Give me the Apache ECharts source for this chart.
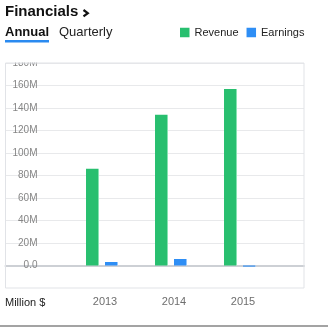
<!DOCTYPE html>
<html>
<head>
<meta charset="utf-8">
<script src="https://cdn.jsdelivr.net/npm/echarts@6/dist/echarts.min.js"></script>
<style>
  html, body { margin: 0; padding: 0; background: #fff; }
  #chart { width: 328px; height: 327px; }
</style>
</head>
<body>
<div id="chart"></div>
<script>
const categories = ['2013', '2014', '2015'];
const revenue = [86, 134, 157];
const earnings = [3.1, 5.8, -1.0];
const yMin = 0, yMax = 180, yStep = 20;
const seriesNames = ['Revenue', 'Earnings'];
const unitLabel = 'Million $';

const FONT = '"Liberation Sans", Arial, sans-serif';
const GREEN = '#28bf6f';
const GREEN_EDGE = '#86e2b2';
const BLUE = '#2e8ef5';
const BLUE_EDGE = '#92c5fb';

function edgeFill(main, edge) {
  return new echarts.graphic.LinearGradient(0, 0, 1, 0, [
    { offset: 0, color: main }, { offset: 0.92, color: main },
    { offset: 0.92, color: edge }, { offset: 1, color: edge }
  ]);
}

const chart = echarts.init(document.getElementById('chart'), null, { renderer: 'canvas' });
chart.setOption({
  animation: false,
  backgroundColor: '#fff',
  textStyle: { fontFamily: FONT },
  legend: {
    left: 180, top: 27, padding: 0,
    itemWidth: 9.5, itemHeight: 9.5, itemGap: 8,
    icon: 'rect',
    textStyle: { fontSize: 11, color: '#222', fontFamily: FONT },
    data: [
      { name: seriesNames[0], itemStyle: { color: GREEN } },
      { name: seriesNames[1], itemStyle: { color: BLUE } }
    ]
  },
  grid: [
    { left: 5.5, right: 24, top: 63, bottom: 61.5 },
    { left: 67.5, right: 53.5, top: 63, bottom: 61.5 }
  ],
  xAxis: [
    { gridIndex: 0, type: 'category', data: [''],
      axisLine: { show: true, lineStyle: { color: '#cdd0d5', width: 2 } },
      axisTick: { show: false }, axisLabel: { show: false }, splitLine: { show: false } },
    { gridIndex: 1, type: 'category', data: categories,
      axisLine: { show: false }, axisTick: { show: false },
      axisLabel: { margin: 31, fontSize: 11, color: '#6e6e6e', padding: [0, 0, 0, 6], fontFamily: FONT } }
  ],
  yAxis: [
    { gridIndex: 0, type: 'value', min: yMin, max: yMax, interval: yStep,
      axisLine: { show: false }, axisTick: { show: false },
      axisLabel: { inside: true, align: 'right', margin: 32, fontSize: 10, color: '#858585', fontFamily: FONT,
        formatter: v => v === 0 ? '0.0' : v + 'M' },
      splitLine: { lineStyle: { color: '#e8e9eb', width: 1 } } },
    { gridIndex: 1, type: 'value', min: yMin, max: yMax, interval: yStep, show: false }
  ],
  series: [
    { name: seriesNames[0], type: 'bar', xAxisIndex: 1, yAxisIndex: 1, data: revenue,
      barWidth: 13, barGap: '46%', clip: false,
      itemStyle: { color: edgeFill(GREEN, GREEN_EDGE) } },
    { name: seriesNames[1], type: 'bar', xAxisIndex: 1, yAxisIndex: 1, data: earnings,
      barWidth: 13, barGap: '46%', clip: false,
      itemStyle: { color: edgeFill(BLUE, BLUE_EDGE) } }
  ],
  graphic: [
    { type: 'rect', z: 50, silent: true, shape: { x: 0, y: 44, width: 328, height: 18.5 }, style: { fill: '#fff' } },
    { type: 'rect', z: 60, silent: true, shape: { x: 5.5, y: 63, width: 298.5, height: 225 },
      style: { fill: 'none', stroke: '#e1e3e7', lineWidth: 1 } },
    { type: 'text', z: 60, left: 5, top: 4,
      style: { text: 'Financials', font: 'bold 15px ' + FONT, fill: '#111' } },
    { type: 'polyline', z: 60, shape: { points: [[83.5, 10], [87.8, 13.2], [83.5, 16.4]] },
      style: { stroke: '#111', lineWidth: 2.2, fill: 'none' } },
    { type: 'text', z: 60, left: 5, top: 26,
      style: { text: 'Annual', font: 'bold 13px ' + FONT, fill: '#111' } },
    { type: 'rect', z: 60, shape: { x: 5, y: 40, width: 44, height: 2.6 }, style: { fill: '#2a8af0' } },
    { type: 'text', z: 60, left: 59, top: 26,
      style: { text: 'Quarterly', font: '13px ' + FONT, fill: '#222' } },
    { type: 'text', z: 60, left: 5, top: 297,
      style: { text: unitLabel, font: '11px ' + FONT, fill: '#222' } },
    { type: 'rect', z: 60, shape: { x: 0, y: 325, width: 328, height: 2 }, style: { fill: '#a3a3a3' } }
  ]
});
</script>
</body>
</html>
